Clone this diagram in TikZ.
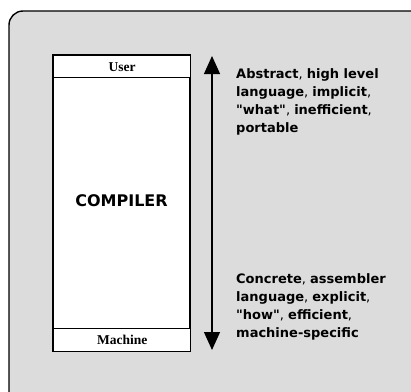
\documentclass[tikz,border=0pt]{standalone}
\usepackage{fontspec}
\setmainfont{Liberation Serif}
\newfontfamily\labelfont{DejaVu Sans}
\usetikzlibrary{arrows.meta}
\tikzset{
  panel/.style={draw=black, line width=1.4pt, fill=panelgray, rounded corners=14pt},
  layerbox/.style={draw=black, line width=1.3pt, fill=white},
  rowtext/.style={font=\bfseries\fontsize{13.5}{14}\selectfont},
  desc/.style={font=\labelfont\fontsize{13}{18}\selectfont, align=left, anchor=west, inner sep=0pt},
  levelarrow/.style={line width=1.2pt, {Triangle[width=16pt,length=18pt]}-{Triangle[width=16pt,length=18pt]}}
}
\definecolor{panelgray}{HTML}{DCDCDC}
\newcommand{\bb}[1]{\textbf{#1}}
\begin{document}
\begin{tikzpicture}[x=1pt,y=-1pt]
  \useasboundingbox (0,0) rectangle (411,391);
  \clip (0,0) rectangle (411,391);
  % background panel, running past the right and bottom edges
  \draw[panel] (9,11) rectangle (430,410);
  % the compiler stack
  \draw[layerbox] (53,55) rectangle (190,351);
  \node[layerbox, minimum width=137pt, minimum height=22pt, inner sep=0pt, anchor=north west, rowtext] (user) at (53,55) {User};
  \node[layerbox, minimum width=137pt, minimum height=23pt, inner sep=0pt, anchor=north west, rowtext] (machine) at (53,328) {Machine};
  \node[font=\labelfont\bfseries\fontsize{16}{18}\selectfont] (compiler) at (121.5,201) {COMPILER};
  % abstraction axis
  \coordinate (top) at (212,56);
  \coordinate (bot) at (212,350);
  \draw[levelarrow] (bot) -- (top);
  \node[desc] (abstract) at (236,102) {\bb{Abstract}, \bb{high level}\\ \bb{language}, \bb{implicit},\\ \bb{"what"}, \bb{inefficient},\\ \bb{portable}};
  \node[desc] (concrete) at (236,306.5) {\bb{Concrete}, \bb{assembler}\\ \bb{language}, \bb{explicit},\\ \bb{"how"}, \bb{efficient},\\ \bb{machine-specific}};
\end{tikzpicture}
\end{document}
